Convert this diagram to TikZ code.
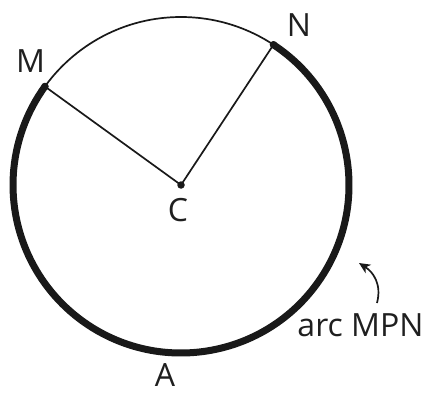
\documentclass[tikz,border=0pt]{standalone}
\usepackage{fontspec}
\setmainfont{Open Sans}
\usetikzlibrary{calc,arrows.meta}
\begin{document}
\begin{tikzpicture}[x=1pt,y=1pt,
  thin line/.style={line width=1.7pt, draw=black!90},
  thick arcline/.style={line width=7pt, draw=black!90, line cap=round},
  lbl/.style={font=\fontsize{32}{34}\selectfont, text=black!88, inner sep=0pt},
  dot/.style={circle, fill=black!90, inner sep=0pt, minimum size=7.5pt}]
\useasboundingbox (0,0) rectangle (424,392);
\coordinate (C) at (181,207);
\coordinate (M) at ($(C)+(144.1:168)$);
\coordinate (N) at ($(C)+(56.6:168)$);
\coordinate (A) at ($(C)+(267.3:168)$);
\draw[thin line] (C) circle[radius=168];
\draw[thin line] (M) -- (C) -- (N);
\draw[thick arcline] (N) arc[start angle=56.6, end angle=-215.9, radius=168];
\node[dot] (Cd) at (C) {};
\node[dot] (Md) at (M) {};
\node[dot] (Nd) at (N) {};
\node[dot, minimum size=6pt] (Ad) at (A) {};
\node[lbl] (Ml) at (30.5,330.5) {M};
\node[lbl] (Nl) at (299,367) {N};
\node[lbl] (Cl) at (178,181.5) {C};
\node[lbl] (Al) at (165,17) {A};
\node[lbl] (arcl) at (360.5,66.5) {arc MPN};
\coordinate (tail) at (377,89);
\coordinate (tip) at (359,129);
\draw[thin line, -{Stealth[length=11pt,width=10pt,inset=3pt]}] (tail) .. controls (382,108) and (373,120) .. (tip);
\end{tikzpicture}
\end{document}
